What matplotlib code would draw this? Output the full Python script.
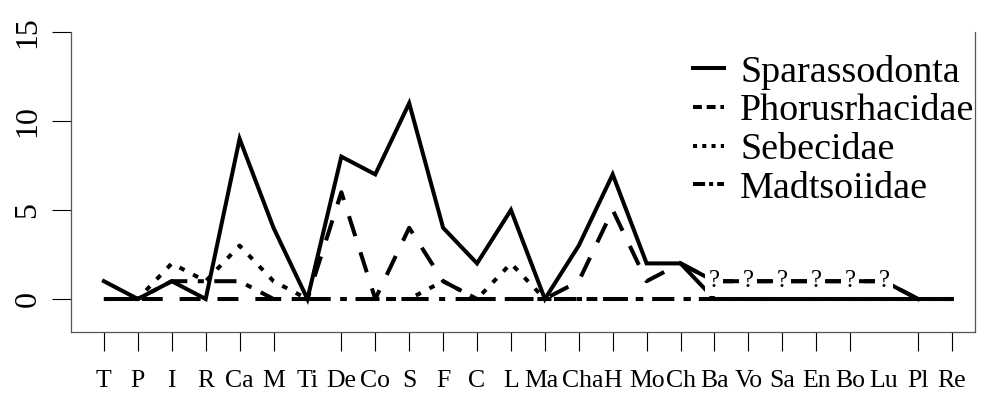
import matplotlib
matplotlib.use("Agg")
import matplotlib.pyplot as plt
from matplotlib.lines import Line2D
from matplotlib.transforms import ScaledTranslation

# land mammal ages, oldest to youngest
ages = ["T", "P", "I", "R", "Ca", "M", "Ti", "De", "Co", "S", "F", "C", "L",
        "Ma", "Cha", "H", "Mo", "Ch", "Ba", "Vo", "Sa", "En", "Bo", "Lu", "Pl", "Re"]
sparassodonta = [1, 0, 1, 0, 9, 4, 0, 8, 7, 11, 4, 2, 5, 0, 3, 7, 2, 2, 0, 0, 0, 0, 0, 0, 0, 0]
phorusrhacidae = [0, 0, 0, 0, 0, 0, 0, 6, 0, 4, 1, 0, 0, 0, 1, 5, 1, 2, 1, 1, 1, 1, 1, 1, 0, 0]
sebecidae = [0, 0, 2, 1, 3, 1, 0, 0, 0, 0, 1, 0, 2, 0, 0, 0, 0, 0, 0, 0, 0, 0, 0, 0, 0, 0]
madtsoiidae = [0, 0, 1, 1, 1, 0, 0, 0, 0, 0, 0, 0, 0, 0, 0, 0, 0, 0, 0, 0, 0, 0, 0, 0, 0, 0]
uncertain = ["Ba", "Vo", "Sa", "En", "Bo", "Lu"]   # phorusrhacid records marked "?"
no_tick = ["Ti", "Lu"]
y_ticks = [0, 5, 10, 15]

SERIF = ["Liberation Serif", "DejaVu Serif"]
plt.rcParams["font.family"] = SERIF

LW = 2.9
DASHED = (0, (5.2, 4.2))
DOTTED = (0, (1.4, 2.4))
DOTDASH = (0, (1.5, 2.6, 5.5, 2.6))


def main() -> None:
    fig = plt.figure(figsize=(9.85, 3.96), dpi=100)
    ax = fig.add_axes([0.0721, 0.1616, 0.9177, 0.7576])
    x = list(range(1, len(ages) + 1))

    ax.plot(x, sparassodonta, color="black", lw=LW, solid_joinstyle="miter")
    ax.plot(x, phorusrhacidae, color="black", lw=LW, linestyle=DASHED)
    ax.plot(x, sebecidae, color="black", lw=LW, linestyle=DOTTED)
    ax.plot(x, madtsoiidae, color="black", lw=LW, linestyle=DOTDASH)

    # uncertain stretch drawn as plain segments broken by "?" marks
    i0 = ages.index(uncertain[0]) - 1
    i1 = ages.index(uncertain[-1]) + 1
    ax.plot(x[i0:i1 + 1], phorusrhacidae[i0:i1 + 1], color="black", lw=LW)
    for lab in uncertain:
        i = ages.index(lab)
        ax.text(x[i], phorusrhacidae[i], "?", fontsize=18, ha="center", va="center",
                bbox=dict(fc="white", ec="none", pad=2.5))

    ax.set_xlim(0.03, 26.68)
    ax.set_ylim(-1.854, 15)
    ax.set_xticks(x)
    ax.set_xticklabels(ages)
    ax.set_yticks(y_ticks)
    ax.set_yticklabels([str(v) for v in y_ticks])
    ax.tick_params(axis="both", length=13.7, width=0.8, color="black")
    ax.tick_params(axis="x", pad=14, labelsize=18.5)
    ax.tick_params(axis="y", pad=7, labelsize=23, labelrotation=90)
    for lab in ax.get_yticklabels():
        lab.set_verticalalignment("center")
    for i, tk in enumerate(ax.xaxis.get_major_ticks()):
        if ages[i] in no_tick:
            tk.tick1line.set_visible(False)
    # Ma and Cha sit very tight; nudge them apart a little
    nudge = {"Ma": -2.5, "Cha": 2.5}
    for lab in ax.get_xticklabels():
        dx = nudge.get(lab.get_text())
        if dx:
            lab.set_transform(lab.get_transform() + ScaledTranslation(dx / 72, 0, fig.dpi_scale_trans))

    ax.spines["top"].set_visible(False)
    for side in ("left", "right", "bottom"):
        ax.spines[side].set_color("#555555")
        ax.spines[side].set_linewidth(0.9)

    handles = [
        Line2D([], [], color="black", lw=LW),
        Line2D([], [], color="black", lw=LW, linestyle=(0, (2.2, 1.2))),
        Line2D([], [], color="black", lw=LW, linestyle=(0, (1, 1.3))),
        Line2D([], [], color="black", lw=LW, linestyle=(0, (3, 1, 1, 1))),
    ]
    names = ["Sparassodonta", "Phorusrhacidae", "Sebecidae", "Madtsoiidae"]
    ax.legend(handles, names, loc="upper left", bbox_to_anchor=(0.7036, 0.862),
              bbox_transform=fig.transFigure, frameon=False, fontsize=27.4,
              handlelength=0.82, handletextpad=0.42, labelspacing=0.105,
              borderaxespad=0, borderpad=0)

    fig.savefig("out.png", dpi=100)
    plt.close(fig)


if __name__ == "__main__":
    main()
